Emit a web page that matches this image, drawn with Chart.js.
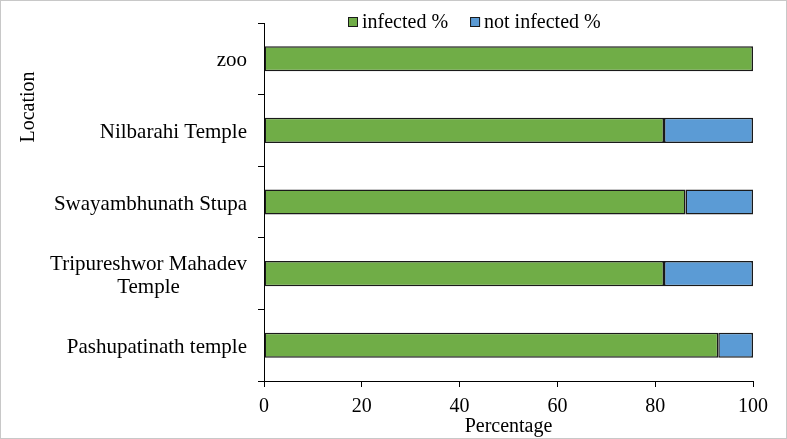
<!DOCTYPE html>
<html lang="en">
<head>
<meta charset="UTF-8">
<title>Infected % by location</title>
<script src="https://cdn.jsdelivr.net/npm/chart.js"></script>
<style>
  html, body { margin: 0; padding: 0; background: #fff; }
  #wrap { width: 787px; height: 439px; }
</style>
</head>
<body>
<div id="wrap"><canvas id="chart" width="787" height="439"></canvas></div>
<script>
  const locations = ['zoo', 'Nilbarahi Temple', 'Swayambhunath Stupa', ['Tripureshwor Mahadev', 'Temple'], 'Pashupatinath temple'];
  const infected = [100, 81.8, 86.2, 81.8, 92.9];
  const notInfected = [0, 18.2, 13.8, 18.2, 7.1];
  const seriesNames = ['infected %', 'not infected %'];
  const xTicks = [0, 20, 40, 60, 80, 100];

  const serif = "'Liberation Serif', 'Times New Roman', serif";

  // frame, y labels (multi-line one centred in itself), rotated axis title, legend
  const decor = {
    id: 'decor',
    beforeDraw(chart) {
      const c = chart.ctx;
      c.save();
      c.strokeStyle = '#c8c8c8';
      c.lineWidth = 1;
      c.strokeRect(0.5, 0.5, chart.width - 1, chart.height - 1);
      c.restore();
    },
    afterDraw(chart) {
      const c = chart.ctx;
      const y = chart.scales.y;
      c.save();
      c.fillStyle = '#000';
      c.font = '21px ' + serif;
      c.textBaseline = 'middle';
      const right = y.right - 17;
      locations.forEach((lab, i) => {
        const cy = y.getPixelForValue(i) + 2;
        if (Array.isArray(lab)) {
          const w = Math.max(...lab.map(s => c.measureText(s).width));
          c.textAlign = 'center';
          lab.forEach((s, k) => c.fillText(s, right - w / 2, cy + (k - (lab.length - 1) / 2) * 23));
        } else {
          c.textAlign = 'right';
          c.fillText(lab, right, cy);
        }
      });

      // y axis title
      c.font = '20px ' + serif;
      c.save();
      c.translate(29, 107);
      c.rotate(-Math.PI / 2);
      c.textAlign = 'center';
      c.fillText('Location', 0, 0);
      c.restore();

      // legend
      let lx = 348;
      const ly = 17;
      c.textAlign = 'left';
      chart.data.datasets.forEach(ds => {
        c.fillStyle = ds.backgroundColor;
        c.fillRect(lx, ly, 10, 10);
        c.strokeStyle = '#1a1a1a';
        c.lineWidth = 1;
        c.strokeRect(lx + 0.5, ly + 0.5, 9, 9);
        c.fillStyle = '#000';
        c.fillText(ds.label, lx + 14, ly + 6);
        lx += 14 + c.measureText(ds.label).width + 22;
      });
      c.restore();
    }
  };

  new Chart(document.getElementById('chart'), {
    type: 'bar',
    data: {
      labels: locations,
      datasets: [
        { label: seriesNames[0], data: infected, backgroundColor: '#70AD47' },
        { label: seriesNames[1], data: notInfected, backgroundColor: '#5B9BD5' }
      ]
    },
    options: {
      indexAxis: 'y',
      responsive: false,
      animation: false,
      layout: { padding: { top: 23, right: 34, left: 0, bottom: 0 } },
      datasets: {
        bar: { borderColor: '#1a1a1a', borderWidth: 1.5, borderSkipped: false, categoryPercentage: 0.7, barPercentage: 0.5 }
      },
      plugins: { legend: { display: false }, tooltip: { enabled: false } },
      scales: {
        x: {
          stacked: true,
          min: 0,
          max: 100,
          afterFit(s) { s.height = 58; },
          afterBuildTicks(a) { a.ticks = xTicks.map(v => ({ value: v })); },
          grid: { drawOnChartArea: false, drawTicks: true, tickLength: 6, color: '#000' },
          border: { color: '#000' },
          ticks: { color: '#000', font: { family: serif, size: 20 }, padding: 8, maxRotation: 0 },
          title: { display: true, text: 'Percentage', color: '#000', font: { family: serif, size: 20 }, padding: 0 }
        },
        y: {
          stacked: true,
          afterFit(s) { s.width = 264; },
          grid: { drawOnChartArea: false, drawTicks: true, tickLength: 6, color: '#000' },
          border: { color: '#000' },
          ticks: { display: false }
        }
      }
    },
    plugins: [decor]
  });
</script>
</body>
</html>
